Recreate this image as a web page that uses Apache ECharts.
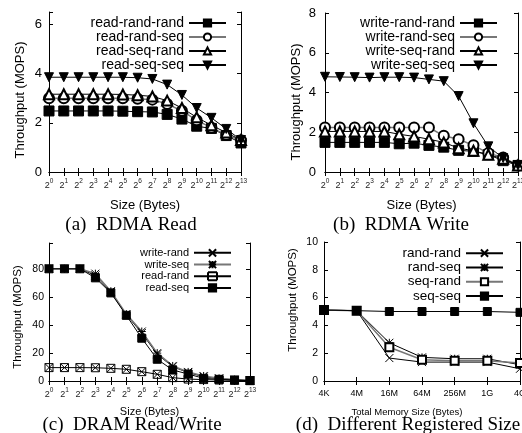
<!DOCTYPE html>
<html>
<head>
<meta charset="utf-8">
<script src="https://cdn.jsdelivr.net/npm/echarts@6/dist/echarts.min.js"></script>
<style>
  html, body { margin: 0; padding: 0; background: #fff; }
  #main { width: 522px; height: 433px; }
</style>
</head>
<body>
<div id="main"></div>
<script>
// x categories: sizes 2^0 .. 2^13 (exponents only)
var sizeExp = [0, 1, 2, 3, 4, 5, 6, 7, 8, 9, 10, 11, 12, 13];
var memSizes = ['4K', '4M', '16M', '64M', '256M', '1G', '4G'];

// (a) RDMA Read
var readRandRand = [2.48, 2.48, 2.48, 2.48, 2.48, 2.47, 2.45, 2.44, 2.34, 2.15, 1.86, 1.77, 1.48, 1.18];
var readRandSeq  = [3.0, 3.0, 3.0, 3.0, 3.0, 3.0, 2.98, 2.94, 2.76, 2.49, 2.1, 1.8, 1.5, 1.29];
var readSeqRand  = [3.16, 3.16, 3.16, 3.16, 3.16, 3.15, 3.12, 3.07, 2.9, 2.6, 2.22, 1.9, 1.6, 1.3];
var readSeqSeq   = [3.85, 3.85, 3.85, 3.85, 3.85, 3.85, 3.83, 3.78, 3.55, 3.13, 2.6, 2.2, 1.75, 1.3];

// (b) RDMA Write
var writeRandRand = [1.49, 1.49, 1.49, 1.49, 1.49, 1.42, 1.45, 1.34, 1.25, 1.09, 1.04, 0.87, 0.57, 0.33];
var writeRandSeq  = [2.24, 2.24, 2.24, 2.24, 2.24, 2.24, 2.24, 2.24, 1.82, 1.65, 1.34, 0.95, 0.73, 0.33];
var writeSeqRand  = [2.04, 2.04, 2.04, 2.04, 2.04, 1.9, 1.79, 1.65, 1.49, 1.2, 1.07, 0.87, 0.67, 0.33];
var writeSeqSeq   = [4.79, 4.78, 4.77, 4.75, 4.77, 4.77, 4.75, 4.66, 4.57, 3.82, 2.45, 1.29, 0.7, 0.33];

// (c) DRAM Read/Write
var dramWriteRand = [80.5, 80.5, 80.5, 75.7, 63.9, 47.6, 34.4, 19.2, 10.3, 6, 3.1, 1.7, 0.7, 0.3];
var dramWriteSeq  = [80.5, 80.5, 80.5, 77, 64.4, 48, 35.5, 20, 10.8, 6.5, 3.6, 1.9, 1, 0.3];
var dramReadRand  = [9.6, 9.6, 9.6, 9.5, 9.1, 8.4, 6.7, 4.8, 2.4, 1.4, 1.0, 0.7, 0.5, 0.3];
var dramReadSeq   = [80.5, 80.5, 80.5, 74, 63.2, 47.1, 30.7, 15.6, 7.9, 5, 1.9, 1.2, 0.7, 0.3];

// (d) Different Registered Size
var memRandRand = [5.1, 5.06, 1.65, 1.36, 1.36, 1.36, 0.88];
var memRandSeq  = [5.1, 5.06, 2.75, 1.7, 1.6, 1.6, 1.17];
var memSeqRand  = [5.1, 5.06, 2.43, 1.53, 1.46, 1.46, 1.29];
var memSeqSeq   = [5.1, 5.06, 5.0, 5.0, 5.0, 5.0, 4.94];

var SANS = 'Liberation Sans';

// gnuplot-like point types
var SYM_FSQUARE = 'rect';
var SYM_CIRCLE = 'emptyCircle';
var SYM_TRI = 'emptyTriangle';
var SYM_DTRI = 'path://M0,0L10,0L5,9Z';
var SYM_X = 'path://M0,0L10,10M10,0L0,10';
var SYM_STAR = 'path://M0,0L10,10M10,0L0,10M5,0L5,10M0,5L10,5';
var SYM_SQUARE = 'emptyRect';
// open box with a cross, made of bare segments so only the stroke shows
var SYM_BOXX = 'path://M0,0L10,0M10,0L10,10M10,10L0,10M0,10L0,0M0,0L10,10M10,0L0,10';
// legend sample for read-rand: line through an open box
var ICON_LINE_BOX = 'path://M0,4.5L37,4.5M14,0.5L23,0.5M23,0.5L23,8.5M23,8.5L14,8.5M14,8.5L14,0.5';

function line(name, data, idx, symbol, size, grey) {
  return {
    name: name,
    type: 'line',
    xAxisIndex: idx,
    yAxisIndex: idx,
    data: data,
    symbol: symbol,
    symbolSize: size,
    showAllSymbol: true,
    lineStyle: { color: grey ? '#777' : '#000', width: grey ? 1.5 : 1 },
    itemStyle: { color: '#000', borderColor: '#000', borderWidth: 1 },
    emphasis: { disabled: true }
  };
}

var expLabel = function (v) { return '{b|2}{s|' + v + '}'; };
var richSup = {
  b: { fontSize: 9, fontFamily: SANS, color: '#222', verticalAlign: 'bottom' },
  s: { fontSize: 6.5, fontFamily: SANS, color: '#222', verticalAlign: 'bottom', padding: [0, 0, 5, 0] }
};

function xBottom(idx, cats, opt) {
  return {
    type: 'category', gridIndex: idx, data: cats, boundaryGap: false, position: 'bottom',
    name: opt.name, nameLocation: 'middle', nameGap: opt.nameGap,
    nameTextStyle: { fontFamily: SANS, fontSize: opt.nameSize, color: '#000', padding: opt.namePad || 0 },
    axisLine: { lineStyle: { color: '#000', width: 1 } },
    axisTick: { inside: true, length: 4, interval: 0, lineStyle: { color: '#000' } },
    axisLabel: opt.label,
    splitLine: { show: false }
  };
}
function xTop(idx, cats) {
  return {
    type: 'category', gridIndex: idx, data: cats, boundaryGap: false, position: 'top',
    axisLine: { lineStyle: { color: '#000', width: 1 } },
    axisTick: { inside: true, length: 4, interval: 0, lineStyle: { color: '#000' } },
    axisLabel: { show: false }, splitLine: { show: false }
  };
}
function yLeft(idx, max, step, opt) {
  return {
    type: 'value', gridIndex: idx, min: 0, max: max, interval: step, position: 'left',
    name: 'Throughput (MOPS)', nameLocation: 'middle', nameGap: opt.nameGap,
    nameTextStyle: { fontFamily: SANS, fontSize: opt.nameSize, color: '#000', padding: opt.namePad },
    axisLine: { show: true, lineStyle: { color: '#000', width: 1 } },
    axisTick: { show: true, inside: true, length: 4, lineStyle: { color: '#000' } },
    axisLabel: {
      fontFamily: SANS, fontSize: opt.labelSize, color: '#000', margin: opt.margin,
      formatter: function (v) { return v % step === 0 ? String(v) : ''; }
    },
    splitLine: { show: false }
  };
}
function yRight(idx, max, step) {
  return {
    type: 'value', gridIndex: idx, min: 0, max: max, interval: step, position: 'right',
    axisLine: { show: true, lineStyle: { color: '#000', width: 1 } },
    axisTick: { show: true, inside: true, length: 4, lineStyle: { color: '#000' } },
    axisLabel: { show: false }, splitLine: { show: false }
  };
}
function legend(names, right, top, size, rowH) {
  return {
    orient: 'vertical', align: 'right', right: right, top: top, padding: 0,
    itemGap: 0, itemWidth: 37, itemHeight: 9,
    textStyle: { fontFamily: SANS, fontSize: size, color: '#000', lineHeight: rowH },
    data: names,
    selectedMode: false
  };
}

var myChart = echarts.init(document.getElementById('main'));

var option = {
  backgroundColor: '#fff',
  animation: false,
  grid: [
    { left: 49, top: 12, width: 192, height: 160, outerBoundsMode: 'none' },
    { left: 325, top: 13, width: 193, height: 159, outerBoundsMode: 'none' },
    { left: 49, top: 243, width: 201, height: 138, outerBoundsMode: 'none' },
    { left: 324, top: 242, width: 196, height: 139, outerBoundsMode: 'none' }
  ],
  xAxis: [
    xBottom(0, sizeExp, { name: 'Size (Bytes)', nameGap: 27, nameSize: 13,
      label: { interval: 0, margin: 6, formatter: expLabel, rich: richSup } }),
    xBottom(1, sizeExp, { name: 'Size (Bytes)', nameGap: 27, nameSize: 13,
      label: { interval: 0, margin: 6, formatter: expLabel, rich: richSup } }),
    xBottom(2, sizeExp, { name: 'Size (Bytes)', nameGap: 25, nameSize: 11,
      label: { interval: 0, margin: 6, formatter: expLabel, rich: richSup } }),
    xBottom(3, memSizes, { name: 'Total Memory Size (Bytes)', nameGap: 26, nameSize: 9.5, namePad: [0, 30, 0, 0],
      label: { interval: 0, margin: 8, fontFamily: SANS, fontSize: 9, color: '#000' } }),
    xTop(0, sizeExp), xTop(1, sizeExp), xTop(2, sizeExp), xTop(3, memSizes)
  ],
  yAxis: [
    yLeft(0, 6.5, 2, { nameGap: 22, nameSize: 13, namePad: [0, 16, 0, 0], labelSize: 13, margin: 7 }),
    yLeft(1, 8, 2, { nameGap: 22, nameSize: 13, namePad: [0, 19, 0, 0], labelSize: 13, margin: 9 }),
    yLeft(2, 99, 20, { nameGap: 25, nameSize: 11.5, namePad: [0, 10, 0, 0], labelSize: 10.5, margin: 5 }),
    yLeft(3, 10, 2, { nameGap: 25, nameSize: 11.5, namePad: [0, 0, 0, 23], labelSize: 10.5, margin: 6 }),
    yRight(0, 6.5, 2), yRight(1, 8, 2), yRight(2, 99, 20), yRight(3, 10, 2)
  ],
  legend: [
    legend(['read-rand-rand', 'read-rand-seq', 'read-seq-rand', 'read-seq-seq'], 295, 16, 14, 13.3),
    legend(['write-rand-rand', 'write-rand-seq', 'write-seq-rand', 'write-seq-seq'], 24, 16, 14, 13.5),
    legend(['write-rand', 'write-seq', { name: 'read-rand', icon: ICON_LINE_BOX }, 'read-seq'], 290, 247, 11, 11.7),
    legend(['rand-rand', 'rand-seq', 'seq-rand', 'seq-seq'], 18, 246, 13.5, 14.3)
  ],
  series: [
    line('read-rand-rand', readRandRand, 0, SYM_FSQUARE, 10),
    line('read-rand-seq', readRandSeq, 0, SYM_CIRCLE, 10, true),
    line('read-seq-rand', readSeqRand, 0, SYM_TRI, 10),
    line('read-seq-seq', readSeqSeq, 0, SYM_DTRI, 9),

    line('write-rand-rand', writeRandRand, 1, SYM_FSQUARE, 10),
    line('write-rand-seq', writeRandSeq, 1, SYM_CIRCLE, 10, true),
    line('write-seq-rand', writeSeqRand, 1, SYM_TRI, 10),
    line('write-seq-seq', writeSeqSeq, 1, SYM_DTRI, 9),

    line('write-rand', dramWriteRand, 2, SYM_X, 8),
    line('write-seq', dramWriteSeq, 2, SYM_STAR, 8, true),
    line('read-rand', dramReadRand, 2, SYM_BOXX, 8),
    line('read-seq', dramReadSeq, 2, SYM_FSQUARE, 8),

    line('rand-rand', memRandRand, 3, SYM_X, 8),
    line('rand-seq', memRandSeq, 3, SYM_STAR, 8),
    line('seq-rand', memSeqRand, 3, SYM_SQUARE, 8, true),
    line('seq-seq', memSeqSeq, 3, SYM_FSQUARE, 8)
  ],
  graphic: [
    { type: 'text', x: 131, y: 225, style: { text: '(a)  RDMA Read', font: '19px "Liberation Serif"', fill: '#000', align: 'center', verticalAlign: 'middle' } },
    { type: 'text', x: 401, y: 225, style: { text: '(b)  RDMA Write', font: '19px "Liberation Serif"', fill: '#000', align: 'center', verticalAlign: 'middle' } },
    { type: 'text', x: 132, y: 425, style: { text: '(c)  DRAM Read/Write', font: '19px "Liberation Serif"', fill: '#000', align: 'center', verticalAlign: 'middle' } },
    { type: 'text', x: 408, y: 425, style: { text: '(d)  Different Registered Size', font: '19px "Liberation Serif"', fill: '#000', align: 'center', verticalAlign: 'middle' } }
  ]
};

myChart.setOption(option);
</script>
</body>
</html>
